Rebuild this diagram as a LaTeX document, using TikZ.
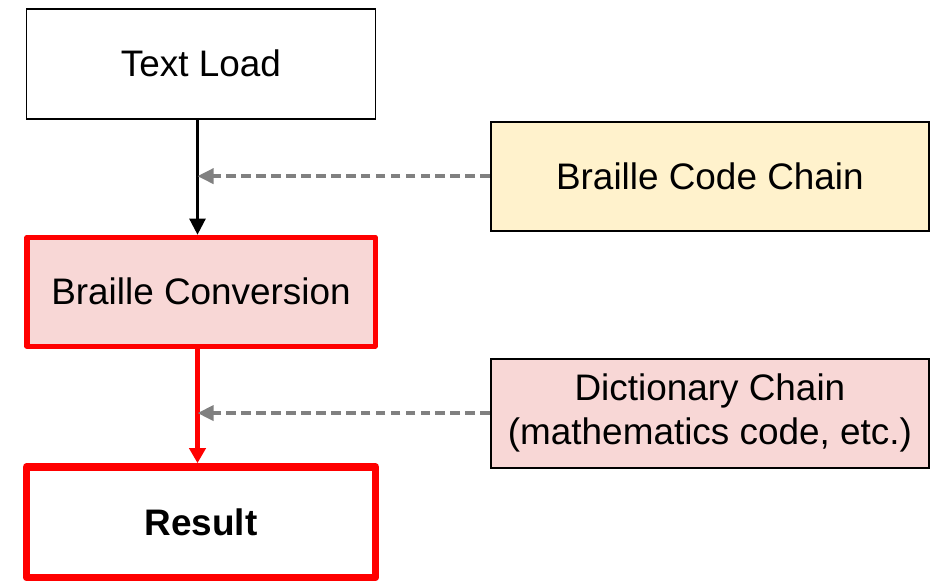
\documentclass[tikz,border=0pt]{standalone}
\usepackage{fontspec}
\setmainfont{Liberation Sans}
\usetikzlibrary{positioning,arrows.meta}
\definecolor{chainyellow}{HTML}{FFF2CC}
\definecolor{chainpink}{HTML}{F8D7D6}
\definecolor{linegray}{HTML}{808080}

\begin{document}
\begin{tikzpicture}[
  box/.style={draw,line width=1.1pt,minimum width=6.98cm,minimum height=2.2cm,
    font=\fontsize{21}{25}\selectfont,inner sep=0pt},
  redbox/.style={box,draw=red,line join=round},
  chainbox/.style={box,minimum width=8.76cm,minimum height=2.18cm,align=center},
  dashline/.style={draw=linegray,line width=2pt,dash pattern=on 5.5pt off 3pt,
    -{Triangle[length=0.32cm,width=0.3cm]}}
]
\useasboundingbox (0,0) rectangle (18.76,-11.62);
\node[box] (load) at (4.02,-1.274) {Text Load};
\node[redbox,fill=chainpink,line width=2.85pt,minimum width=6.96cm,minimum height=2.18cm, below=2.3cm of load] (conv) {Braille Conversion};
\node[redbox,line width=4.3pt,minimum height=2.21cm, below=2.29cm of conv] (res) {\textbf{Result}};
\node[chainbox,fill=chainyellow,below right=0.02cm and 2.27cm of load] (code) {Braille Code Chain};
\node[chainbox,fill=chainpink,below=2.52cm of code] (dict) {Dictionary Chain\\(mathematics code, etc.)};
\draw[line width=1.4pt,-{Triangle[length=0.32cm,width=0.32cm]}] ([xshift=-0.07cm]load.south) -- ([xshift=-0.07cm]conv.north);
\draw[red,line width=2.3pt,-{Triangle[length=0.3cm,width=0.32cm]}] ([xshift=-0.07cm]conv.south) -- ([xshift=-0.07cm]res.north);
\path[dashline] (code.west) -- ([xshift=-0.07cm]code.west -| load.south);
\path[dashline] (dict.west) -- ([xshift=-0.07cm]dict.west -| conv.south);
\end{tikzpicture}
\end{document}
